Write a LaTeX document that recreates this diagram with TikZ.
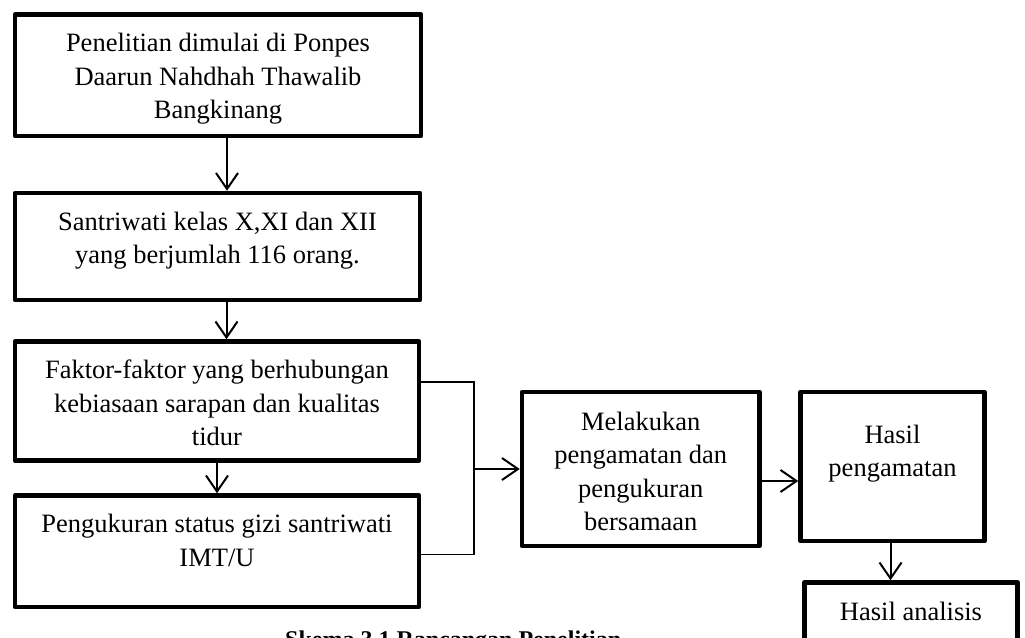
\documentclass[tikz,border=0pt]{standalone}
\usepackage{fontspec}
\setmainfont{Liberation Serif}
\usetikzlibrary{arrows.meta}
\begin{document}
\begin{tikzpicture}[x=1pt,y=-1pt,
  box/.style n args={2}{draw, line width=4.5pt, line join=round, inner sep=0pt,
    minimum width=#1, minimum height=#2},
  txt/.style={font=\fontsize{26.5}{33.5}\selectfont, align=center,
    inner sep=0pt, anchor=north},
  arr/.style={line width=2pt, -{Straight Barb[length=16pt,width=22pt]}},
  bus/.style={line width=1.5pt}]
\path[use as bounding box, clip] (0,0) rectangle (1025,637);

% boxes
\node[box={406pt}{121.5pt}] (b1) at (218,75.25) {};
\node[box={405pt}{107pt}]   (b2) at (217.5,246.5) {};
\node[box={404pt}{119pt}]   (b3) at (217,401) {};
\node[box={404pt}{111.5pt}] (b4) at (217,551.25) {};
\node[box={237.5pt}{154pt}] (b5) at (640.75,469) {};
\node[box={184pt}{149pt}]   (b6) at (892.5,466.5) {};
\node[box={213pt}{97.5pt}]  (b7) at (911,631.25) {};

% box texts
\node[txt] (t1) at (218,28.05) {\strut Penelitian dimulai di Ponpes\\Daarun Nahdhah Thawalib\\Bangkinang};
\node[txt] (t2) at (217.5,206.55) {\strut Santriwati kelas X,XI dan XII\\yang berjumlah 116 orang.};
\node[txt] (t3) at (217,355.05) {\strut Faktor-faktor yang berhubungan\\kebiasaan sarapan dan kualitas\\tidur};
\node[txt] (t4) at (217,509.05) {\strut Pengukuran status gizi santriwati\\IMT/U};
\node[txt] (t5) at (640.75,406.55) {\strut Melakukan\\pengamatan dan\\pengukuran\\bersamaan};
\node[txt] (t6) at (892.5,419.55) {\strut Hasil\\pengamatan};
\node[txt] (t7) at (911,596.55) {\strut Hasil analisis};

% caption
\node[anchor=base west, inner sep=0pt, font=\fontsize{24}{28}\selectfont\bfseries]
  (cap) at (285,647) {Skema 3.1 Rancangan Penelitian};

% connectors
\draw[arr] ([xshift=9pt]b1.south) -- ([xshift=9pt]b1.south |- b2.north);
\draw[arr] ([xshift=9pt]b2.south) -- ([xshift=9pt]b2.south |- b3.north);
\draw[arr] (b3.south) -- (b3.south |- b4.north);

\coordinate (jn) at (474,469);
\draw[bus] ([yshift=19pt]b3.east) -| (jn) |- ([yshift=-3pt]b4.east);
\draw[arr] (jn) -- (b5.west);

\draw[arr] ([yshift=-12pt]b5.east) -- ([yshift=-12pt]b5.east -| b6.west);
\draw[arr] ([xshift=-2pt]b6.south) -- ([xshift=-2pt]b6.south |- b7.north);
\end{tikzpicture}
\end{document}
